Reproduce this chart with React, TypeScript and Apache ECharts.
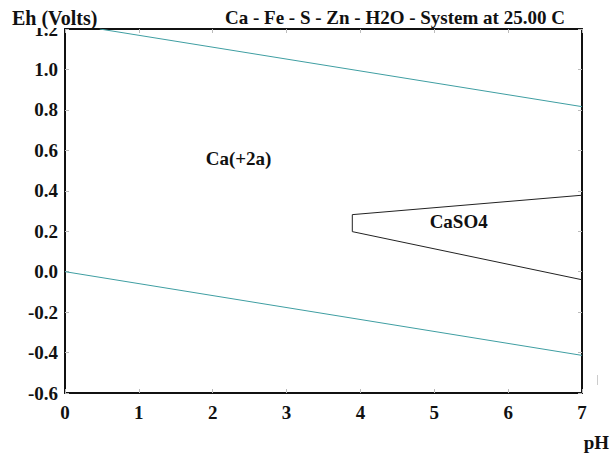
import React, { useEffect, useRef } from "react";
import * as echarts from "echarts";

const xTicks = [0, 1, 2, 3, 4, 5, 6, 7];
const yTicks = [-0.6, -0.4, -0.2, 0.0, 0.2, 0.4, 0.6, 0.8, 1.0, 1.2];
const upperWaterLine: [number, number][] = [[0.47, 1.2], [7, 0.816]];
const lowerWaterLine: [number, number][] = [[0, 0], [7, -0.414]];
const caso4Boundary: [number, number][] = [[7, 0.378], [3.89, 0.282], [3.89, 0.198], [7, -0.04]];
const fieldLabels = [
  { name: "Ca(+2a)", pos: [2.35, 0.56] },
  { name: "CaSO4", pos: [5.33, 0.25] },
];
const titleLeft = "Eh (Volts)";
const titleRight = "Ca - Fe - S - Zn - H2O - System at 25.00 C";
const xName = "pH";

const FONT = "Liberation Serif, Times New Roman, serif";

export default function App() {
  const ref = useRef<HTMLDivElement>(null);
  useEffect(() => {
    if (!ref.current) return;
    const chart = echarts.init(ref.current, null, { renderer: "svg" });
    const axisCommon = {
      type: "value" as const,
      axisLine: { show: true, onZero: false, lineStyle: { color: "#111", width: 2 } },
      axisTick: { show: true, inside: true, length: 4, lineStyle: { color: "#bbb", width: 1 } },
      splitLine: { show: false },
    };
    chart.setOption({
      animation: false,
      backgroundColor: "#fff",
      grid: { left: 65, right: 29, top: 29, bottom: 61 },
      xAxis: [
        {
          ...axisCommon,
          position: "bottom",
          min: 0,
          max: 7,
          interval: 1,
          axisLabel: {
            color: "#111",
            fontFamily: FONT,
            fontWeight: "bold",
            fontSize: 19,
            margin: 10,
            formatter: (v: number) => (xTicks.includes(v) ? String(v) : ""),
          },
        },
        {
          ...axisCommon,
          position: "top",
          min: 0,
          max: 7,
          interval: 1,
          axisLabel: { show: false },
        },
      ],
      yAxis: [
        {
          ...axisCommon,
          position: "left",
          min: -0.6,
          max: 1.2,
          interval: 0.2,
          axisLabel: {
            color: "#111",
            fontFamily: FONT,
            fontWeight: "bold",
            fontSize: 19,
            margin: 7,
            formatter: (v: number) => {
              const t = yTicks.find((y) => Math.abs(y - v) < 1e-6);
              return t === undefined ? "" : t.toFixed(1);
            },
          },
        },
        {
          ...axisCommon,
          position: "right",
          min: -0.6,
          max: 1.2,
          interval: 0.2,
          axisLabel: { show: false },
        },
      ],
      series: [
        {
          type: "line",
          data: upperWaterLine,
          symbol: "none",
          lineStyle: { color: "#3f9ea2", width: 1 },
        },
        {
          type: "line",
          data: lowerWaterLine,
          symbol: "none",
          lineStyle: { color: "#3f9ea2", width: 1 },
        },
        {
          type: "line",
          data: caso4Boundary,
          symbol: "none",
          lineStyle: { color: "#222", width: 1 },
        },
        {
          type: "scatter",
          symbolSize: 0,
          itemStyle: { opacity: 1 },
          data: fieldLabels.map((f) => ({ value: f.pos, name: f.name })),
          label: {
            show: true,
            position: "inside",
            formatter: (p: any) => p.name,
            color: "#111",
            opacity: 1,
            fontFamily: FONT,
            fontWeight: "bold",
            fontSize: 19,
          },
        },
      ],
      graphic: [
        {
          type: "text",
          x: 12,
          y: 8,
          z: 100,
          style: {
            text: titleLeft,
            fill: "#111",
            fontFamily: FONT,
            fontWeight: "bold",
            fontSize: 20,
            backgroundColor: "#fff",
          },
        },
        {
          type: "text",
          x: 225,
          y: 8,
          z: 100,
          style: {
            text: titleRight,
            fill: "#111",
            fontFamily: FONT,
            fontWeight: "bold",
            fontSize: 19,
            backgroundColor: "#fff",
          },
        },
        {
          type: "text",
          x: 609,
          y: 433,
          style: {
            text: xName,
            fill: "#111",
            fontFamily: FONT,
            fontWeight: "bold",
            fontSize: 19,
            align: "right",
          },
        },
        {
          type: "line",
          shape: { x1: 597.5, y1: 375, x2: 597.5, y2: 385 },
          style: { stroke: "#ccc", lineWidth: 1 },
        },
      ],
    });
    return () => chart.dispose();
  }, []);
  return (
    <div
      ref={ref}
      style={{ position: "absolute", left: 0, top: 0, width: 611, height: 454 }}
    />
  );
}
